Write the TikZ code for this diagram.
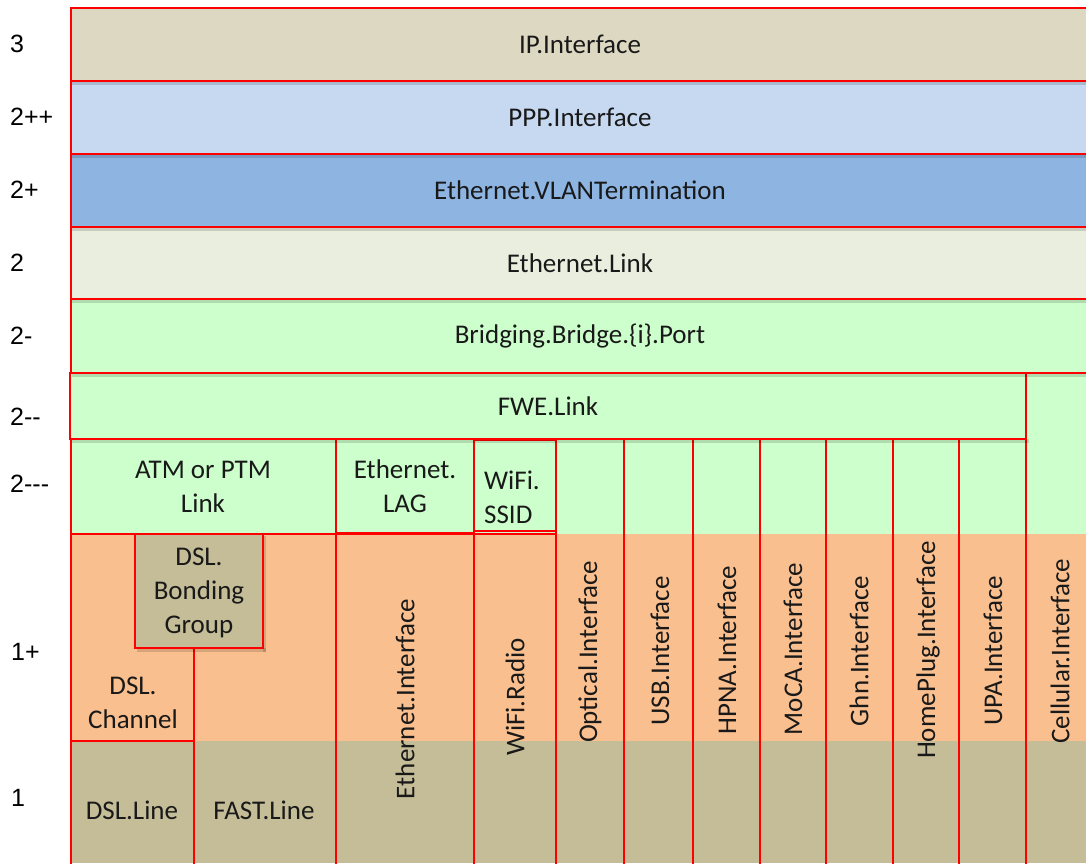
\documentclass[tikz,border=0pt]{standalone}
\usepackage{fontspec}
\setmainfont{Carlito}
\newfontfamily\numfont{Liberation Sans}
\definecolor{ipc}{HTML}{DDD8C2}
\definecolor{pppc}{HTML}{C6D9F1}
\definecolor{vlanc}{HTML}{8EB4E2}
\definecolor{ethc}{HTML}{EAEEDF}
\definecolor{grnc}{HTML}{CCFFCC}
\definecolor{orgc}{HTML}{F9BF8F}
\definecolor{tanc}{HTML}{C4BD97}
\definecolor{rdc}{HTML}{FF0000}
\tikzset{
  thinbox/.style={draw=rdc, line width=1.3pt},
  thickbox/.style={draw=rdc, line width=2.2pt},
  lbl/.style={font=\fontsize{27}{34}\selectfont, text=black!90, align=center, inner sep=0pt},
  vlbl/.style={lbl, rotate=90},
  rowlbl/.style={font=\numfont\fontsize{25}{28}\selectfont, text=black, anchor=west, inner sep=0pt},
  shadowstrip/.style={fill=black, opacity=0.14}
}
\begin{document}
\begin{tikzpicture}[x=1pt,y=-1pt]
\useasboundingbox (0,0) rectangle (1086,863);
\clip (0,0) rectangle (1086,863);
\fill[white] (0,0) rectangle (1086,863);

% horizontal bands of the lower layers
\fill[grnc] (71,373) rectangle (1092,534);
\fill[orgc] (71,534) rectangle (1092,741);
\fill[tanc] (71,741) rectangle (1092,863);

% column outlines
\draw[thinbox] (556,439) rectangle (624,866);
\draw[thinbox] (624,439) rectangle (693,866);
\draw[thinbox] (693,439) rectangle (760,866);
\draw[thinbox] (826,439) rectangle (893,866);
\draw[thinbox] (959,439) rectangle (1026,866);
\draw[thickbox] (760,438) rectangle (826,866);
\draw[thickbox] (893,438) rectangle (959,866);
\draw[thickbox] (1026,373) rectangle (1095,866);

% Ethernet / WiFi columns
\draw[thinbox] (336,439) rectangle (474,533);
\draw[thinbox] (474,440) rectangle (556,531);
\draw[thickbox] (336,534) rectangle (474,866);
\draw[thickbox] (474,534) rectangle (556,866);

% ATM / DSL block
\draw[thinbox] (71,439) rectangle (336,534);
\draw[thickbox] (71,534) rectangle (336,866);
\draw[thinbox] (194,648) -- (194,866);
\draw[thickbox] (71,534) rectangle (194,741);
\draw[thickbox] (71,741) rectangle (194,866);
\path[shadowstrip] (137,648) rectangle (266,651.5);
\path[shadowstrip] (263,536) rectangle (266,651.5);
\path[fill=tanc, draw=rdc, line width=1.8pt] (135,534) rectangle (263,648);

% FWE and upper rows, each with a soft shadow below it
\path[shadowstrip] (72,439) rectangle (1029,442.5);
\path[fill=grnc, draw=rdc, line width=2.2pt] (70,373) rectangle (1026,439);
\path[shadowstrip] (72,373) rectangle (1092,376.5);
\path[fill=grnc, draw=rdc, line width=1.2pt] (71,299) rectangle (1092,373);
\path[shadowstrip] (72,299) rectangle (1092,302.5);
\path[fill=ethc, draw=rdc, line width=1.2pt] (71,227) rectangle (1092,299);
\path[shadowstrip] (72,227) rectangle (1092,230.5);
\path[fill=vlanc, draw=rdc, line width=1.2pt] (71,154) rectangle (1092,227);
\path[shadowstrip] (72,154) rectangle (1092,157.5);
\path[fill=pppc, draw=rdc, line width=1.2pt] (71,81) rectangle (1092,154);
\path[shadowstrip] (72,81) rectangle (1092,84.5);
\path[fill=ipc, draw=rdc, line width=1.2pt] (71,8) rectangle (1092,81);

% row (layer) labels
\node[rowlbl] (l3)  at (10,44)  {3};
\node[rowlbl] (l2pp) at (10,117) {2++};
\node[rowlbl] (l2p) at (10,190) {2+};
\node[rowlbl] (l2)  at (10,263) {2};
\node[rowlbl] (l2m) at (10,336) {2-};
\node[rowlbl] (l2mm) at (10,417) {2--};
\node[rowlbl] (l2mmm) at (10,484) {2---};
\node[rowlbl] (l1p) at (11,652) {1+};
\node[rowlbl] (l1)  at (11,798) {1};

% box labels
\node[lbl] (ip)   at (580,44)  {IP.Interface};
\node[lbl] (ppp)  at (580,117) {PPP.Interface};
\node[lbl] (vlan) at (580,190) {Ethernet.VLANTermination};
\node[lbl] (elink) at (580,263) {Ethernet.Link};
\node[lbl] (port) at (580,336) {Bridging.Bridge.\{i\}.Port};
\node[lbl] (fwe)  at (548,406) {FWE.Link};
\node[lbl] (atm)  at (203,487) {ATM or PTM\\Link};
\node[lbl] (lag)  at (405,486) {Ethernet.\\LAG};
\node[lbl, align=left, anchor=west] (ssid) at (484,497) {WiFi.\\SSID};
\node[lbl] (bond) at (199,593) {DSL.\\Bonding\\Group};
\node[lbl] (chan) at (133,703) {DSL.\\Channel};
\node[lbl] (dline) at (132,810) {DSL.Line};
\node[lbl] (fline) at (264,810) {FAST.Line};

\node[vlbl] (ethif)  at (405,699) {Ethernet.Interface};
\node[vlbl] (radio)  at (515,697) {WiFi.Radio};
\node[vlbl] (optif)  at (590,652) {Optical.Interface};
\node[vlbl] (usbif)  at (660,651) {USB.Interface};
\node[vlbl] (hpnaif) at (727,650) {HPNA.Interface};
\node[vlbl] (mocaif) at (793,649) {MoCA.Interface};
\node[vlbl] (ghnif)  at (859,651) {Ghn.Interface};
\node[vlbl] (hpif)   at (928,650) {HomePlug.Interface};
\node[vlbl] (upaif)  at (993,651) {UPA.Interface};
\node[vlbl] (cellif) at (1060,651) {Cellular.Interface};
\end{tikzpicture}
\end{document}
